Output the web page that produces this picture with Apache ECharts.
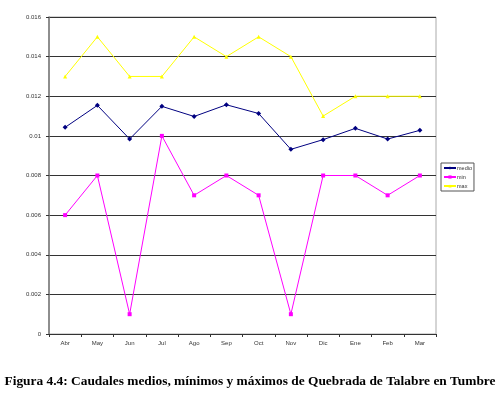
<!DOCTYPE html>
<html><head><meta charset="utf-8">
<script src="https://cdn.jsdelivr.net/npm/echarts@6/dist/echarts.min.js"></script>
<style>html,body{margin:0;padding:0;background:#fff;}#c{width:500px;height:394px;}</style>
</head><body><div id="c"></div>
<script>
const categories = ["Abr","May","Jun","Jul","Ago","Sep","Oct","Nov","Dic","Ene","Feb","Mar"];
const medio = [0.01043,0.01154,0.00984,0.01149,0.01098,0.01157,0.01113,0.00932,0.00981,0.01038,0.00984,0.01028];
const minV = [0.006,0.008,0.001,0.010,0.007,0.008,0.007,0.001,0.008,0.008,0.007,0.008];
const maxV = [0.013,0.015,0.013,0.013,0.015,0.014,0.015,0.014,0.011,0.012,0.012,0.012];
const yTicks = [0,0.002,0.004,0.006,0.008,0.01,0.012,0.014,0.016];
const titleText = "Figura 4.4: Caudales medios, mínimos y máximos de Quebrada de Talabre en Tumbre";

const chart = echarts.init(document.getElementById('c'), null, {renderer:'canvas'});
const lbl = {fontFamily:'Liberation Sans, Arial, sans-serif', fontSize:6, color:'#333'};
chart.setOption({
  animation:false,
  title:{text:titleText,left:'center',top:370,textStyle:{fontFamily:'Liberation Serif, Times New Roman, serif',fontWeight:'bold',fontSize:13.4,color:'#000'}},
  grid:{left:49,right:64,top:17,bottom:60,show:true,borderColor:'#aaa',borderWidth:1},
  legend:{
    data:['medio','min','max'],orient:'vertical',left:441,top:163,
    itemWidth:12,itemHeight:4,itemGap:3,padding:[2,2,2,2],
    borderColor:'#555',borderWidth:1,
    textStyle:{fontFamily:'Liberation Sans, Arial, sans-serif',fontSize:5.5,color:'#333',padding:[0,0,0,-4]}
  },
  xAxis:{type:'category',data:categories,boundaryGap:true,
    axisLine:{lineStyle:{color:'#333',width:1}},
    axisTick:{show:true,length:3,lineStyle:{color:'#333'}},
    axisLabel:Object.assign({margin:6},lbl)},
  yAxis:{type:'value',min:0,max:0.016,interval:0.002,
    axisLine:{show:true,lineStyle:{color:'#777',width:1.5}},
    axisTick:{show:true,length:3,lineStyle:{color:'#333'}},
    splitLine:{lineStyle:{color:'#333',width:1.2}},
    axisLabel:Object.assign({margin:8,formatter:v=>String(yTicks.find(t=>Math.abs(t-v)<1e-9)??v)},lbl)},
  series:[
    {name:'medio',type:'line',data:medio,symbol:'diamond',symbolSize:5,
      itemStyle:{color:'#000080'},lineStyle:{color:'#000080',width:1}},
    {name:'min',type:'line',data:minV,symbol:'rect',symbolSize:4,
      itemStyle:{color:'#FF00FF'},lineStyle:{color:'#FF00FF',width:1}},
    {name:'max',type:'line',data:maxV,symbol:'triangle',symbolSize:4,
      itemStyle:{color:'#FFFF00'},lineStyle:{color:'#FFFF00',width:1}}
  ]
});
</script></body></html>
